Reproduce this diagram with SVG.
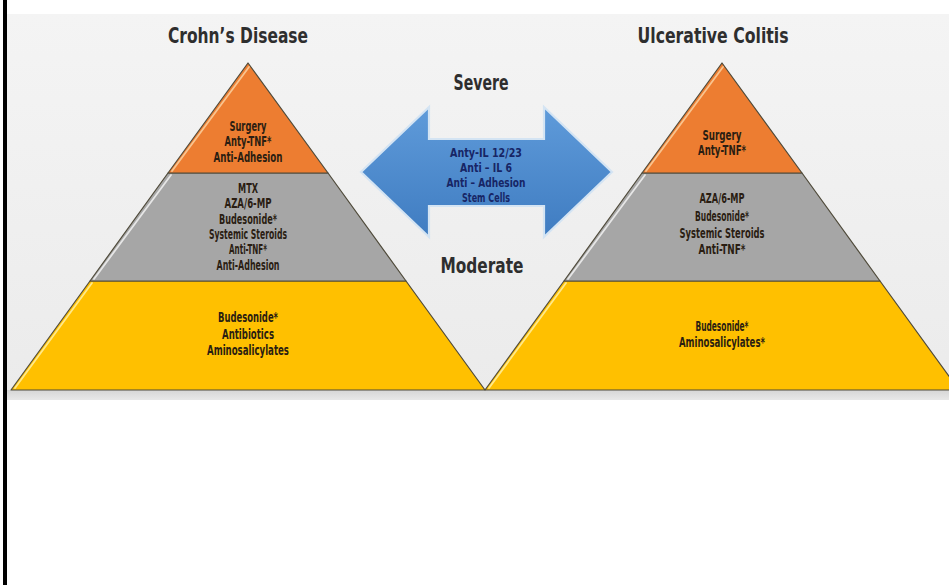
<svg xmlns="http://www.w3.org/2000/svg" width="949" height="585" viewBox="0 0 949 585">
<defs>
<linearGradient id="bg" x1="0" y1="0" x2="0" y2="1">
<stop offset="0" stop-color="#f4f4f4"/>
<stop offset="1" stop-color="#ebebeb"/>
</linearGradient>
<linearGradient id="band" x1="0" y1="0" x2="0" y2="1">
<stop offset="0" stop-color="#d6d6d6"/>
<stop offset="1" stop-color="#e8e8e8"/>
</linearGradient>
<linearGradient id="blue" x1="0" y1="0" x2="0" y2="1">
<stop offset="0" stop-color="#5f9bda"/>
<stop offset="1" stop-color="#3f7cc1"/>
</linearGradient>
<style>
.lay{stroke:#4f4a3a;stroke-width:1.2;stroke-linejoin:round}
.or{fill:#ed7d31}
.gr{fill:#a6a6a6}
.ye{fill:#ffc000}
.hl{fill:none;stroke-width:1.8;stroke-linecap:round}
.t{font-family:"DejaVu Sans Condensed","DejaVu Sans","Liberation Sans",sans-serif;font-weight:bold;text-anchor:middle}
.lt{font-size:13.5px;fill:#2a1d12}
.head{font-size:21px;fill:#2e2e2e}
.at{font-size:13px;fill:#172565}
</style>
</defs>
<rect x="0" y="0" width="949" height="585" fill="#ffffff"/>
<rect x="7" y="14" width="942" height="386" fill="url(#bg)"/>
<rect x="7" y="390" width="942" height="10" fill="url(#band)"/>
<rect x="3" y="0" width="4" height="585" fill="#000000"/>

<g id="title-crohns">
<text class="t head" x="238" y="43" textLength="140" lengthAdjust="spacingAndGlyphs">Crohn’s Disease</text>
</g>
<g id="title-uc">
<text class="t head" x="713" y="43" textLength="151" lengthAdjust="spacingAndGlyphs">Ulcerative Colitis</text>
</g>
<g id="label-severe">
<text class="t head" x="481" y="90" textLength="55" lengthAdjust="spacingAndGlyphs">Severe</text>
</g>
<g id="label-moderate">
<text class="t head" x="482" y="273" textLength="83" lengthAdjust="spacingAndGlyphs">Moderate</text>
</g>

<g id="cd-bottom">
<polygon class="lay ye" points="90,281 406,281 485,390 11,390"/>
<line class="hl" stroke="#ffe98a" x1="92" y1="283" x2="15" y2="388"/>
<text class="t lt" x="248" y="322" textLength="60" lengthAdjust="spacingAndGlyphs">Budesonide*</text>
<text class="t lt" x="248" y="339" textLength="52" lengthAdjust="spacingAndGlyphs">Antibiotics</text>
<text class="t lt" x="248" y="355" textLength="82" lengthAdjust="spacingAndGlyphs">Aminosalicylates</text>
</g>
<g id="cd-middle">
<polygon class="lay gr" points="168,173 328,173 406,281 90,281"/>
<line class="hl" stroke="#e6e6e6" x1="171" y1="175" x2="94" y2="279"/>
<text class="t lt" x="248" y="193" textLength="20" lengthAdjust="spacingAndGlyphs">MTX</text>
<text class="t lt" x="248" y="208" textLength="47" lengthAdjust="spacingAndGlyphs">AZA/6-MP</text>
<text class="t lt" x="248" y="224" textLength="58" lengthAdjust="spacingAndGlyphs">Budesonide*</text>
<text class="t lt" x="248" y="239" textLength="78" lengthAdjust="spacingAndGlyphs">Systemic Steroids</text>
<text class="t lt" x="248" y="254" textLength="38" lengthAdjust="spacingAndGlyphs">Anti-TNF*</text>
<text class="t lt" x="248" y="270" textLength="63" lengthAdjust="spacingAndGlyphs">Anti-Adhesion</text>
</g>
<g id="cd-top">
<polygon class="lay or" points="248,63 328,173 168,173"/>
<line class="hl" stroke="#f9c48f" x1="249" y1="67" x2="172" y2="171"/>
<text class="t lt" x="248" y="131" textLength="37" lengthAdjust="spacingAndGlyphs">Surgery</text>
<text class="t lt" x="248" y="146" textLength="47" lengthAdjust="spacingAndGlyphs">Anty-TNF*</text>
<text class="t lt" x="248" y="162" textLength="69" lengthAdjust="spacingAndGlyphs">Anti-Adhesion</text>
</g>

<g id="uc-bottom">
<polygon class="lay ye" points="564,281 880,281 959,390 485,390"/>
<line class="hl" stroke="#ffe98a" x1="566" y1="283" x2="489" y2="388"/>
<text class="t lt" x="722" y="331" textLength="53" lengthAdjust="spacingAndGlyphs">Budesonide*</text>
<text class="t lt" x="722" y="347" textLength="86" lengthAdjust="spacingAndGlyphs">Aminosalicylates*</text>
</g>
<g id="uc-middle">
<polygon class="lay gr" points="642,173 802,173 880,281 564,281"/>
<line class="hl" stroke="#e6e6e6" x1="645" y1="175" x2="568" y2="279"/>
<text class="t lt" x="722" y="203" textLength="45" lengthAdjust="spacingAndGlyphs">AZA/6-MP</text>
<text class="t lt" x="722" y="221" textLength="54" lengthAdjust="spacingAndGlyphs">Budesonide*</text>
<text class="t lt" x="722" y="238" textLength="85" lengthAdjust="spacingAndGlyphs">Systemic Steroids</text>
<text class="t lt" x="722" y="254" textLength="47" lengthAdjust="spacingAndGlyphs">Anti-TNF*</text>
</g>
<g id="uc-top">
<polygon class="lay or" points="722,63 802,173 642,173"/>
<line class="hl" stroke="#f9c48f" x1="723" y1="67" x2="646" y2="171"/>
<text class="t lt" x="722" y="140" textLength="39" lengthAdjust="spacingAndGlyphs">Surgery</text>
<text class="t lt" x="722" y="155" textLength="48" lengthAdjust="spacingAndGlyphs">Anty-TNF*</text>
</g>

<g id="connectors">
<g id="arrow-therapies">
<path d="M361,172 L429,107 L429,139 L544,139 L544,107 L612,172 L544,237 L544,206 L429,206 L429,237 Z" fill="url(#blue)" stroke="#d4e4f3" stroke-width="2.2" stroke-linejoin="miter"/>
<text class="t at" x="486" y="157" textLength="72" lengthAdjust="spacingAndGlyphs">Anty-IL 12/23</text>
<text class="t at" x="486" y="172" textLength="52" lengthAdjust="spacingAndGlyphs">Anti – IL 6</text>
<text class="t at" x="486" y="187" textLength="79" lengthAdjust="spacingAndGlyphs">Anti – Adhesion</text>
<text class="t at" x="486" y="202" textLength="48" lengthAdjust="spacingAndGlyphs">Stem Cells</text>
</g>
</g>
</svg>
